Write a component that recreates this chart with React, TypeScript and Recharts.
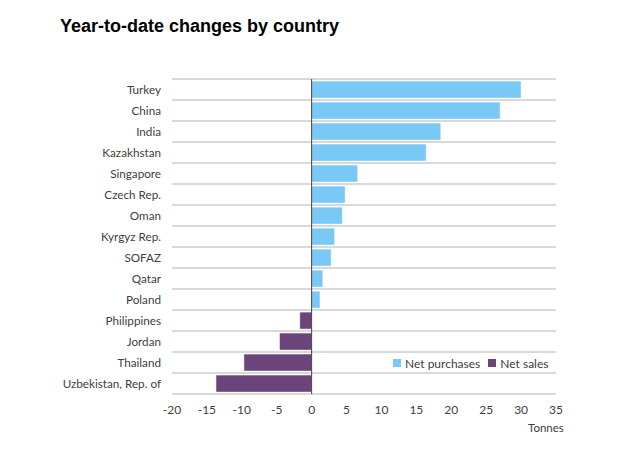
import { Bar, BarChart, CartesianGrid, ReferenceLine, XAxis, YAxis } from "recharts";

document.body.style.margin = "0";

const countries = [
  "Turkey",
  "China",
  "India",
  "Kazakhstan",
  "Singapore",
  "Czech Rep.",
  "Oman",
  "Kyrgyz Rep.",
  "SOFAZ",
  "Qatar",
  "Poland",
  "Philippines",
  "Jordan",
  "Thailand",
  "Uzbekistan, Rep. of",
];

// tonnes, year-to-date
const changes = [30.0, 27.0, 18.5, 16.4, 6.6, 4.8, 4.4, 3.3, 2.8, 1.6, 1.2, -1.7, -4.6, -9.7, -13.7];

const xTicks = [-20, -15, -10, -5, 0, 5, 10, 15, 20, 25, 30, 35];

const BLUE = "#7AC8F5";
const PURPLE = "#6B4479";
const FONT = "Lato, 'Open Sans', sans-serif";

const rows = countries.map((name, i) => ({
  name,
  purchases: changes[i] > 0 ? changes[i] : 0,
  sales: changes[i] < 0 ? changes[i] : 0,
}));

function LegendBox() {
  const item = (color: string, label: string) => (
    <span style={{ display: "inline-flex", alignItems: "center", marginRight: 8 }}>
      <span style={{ width: 8, height: 8, background: color, marginRight: 4 }} />
      {label}
    </span>
  );
  return (
    <div
      style={{
        position: "absolute",
        left: 393,
        top: 355,
        fontFamily: FONT,
        fontSize: 12,
        color: "#404040",
        whiteSpace: "nowrap",
      }}
    >
      {item(BLUE, "Net purchases")}
      {item(PURPLE, "Net sales")}
    </div>
  );
}

export default function App() {
  return (
    <div style={{ position: "relative", width: 623, height: 456, background: "#fff" }}>
      <div
        style={{
          position: "absolute",
          left: 60,
          top: 16,
          fontFamily: "'Liberation Sans', Arial, sans-serif",
          fontWeight: "bold",
          fontSize: 18,
          color: "#000",
        }}
      >
        Year-to-date changes by country
      </div>
      <BarChart
        width={623}
        height={456}
        data={rows}
        layout="vertical"
        stackOffset="sign"
        barCategoryGap="10%"
        margin={{ top: 79, right: 67, bottom: 32, left: 42 }}
      >
        <CartesianGrid
          vertical={false}
          stroke="#b3b3b3"
          horizontalCoordinatesGenerator={({ offset }: any) =>
            countries
              .map((_, i) => offset.top + (i * offset.height) / countries.length)
              .concat(offset.top + offset.height)
          }
        />
        <XAxis
          type="number"
          domain={[-20, 35]}
          ticks={xTicks}
          axisLine={false}
          tickLine={false}
          tickSize={0}
          tickMargin={11}
          height={30}
          interval={0}
          tick={{ fill: "#404040", fontSize: 12, fontFamily: FONT }}
        />
        <YAxis
          type="category"
          dataKey="name"
          width={130}
          axisLine={false}
          tickLine={false}
          tickSize={0}
          tickMargin={11}
          interval={0}
          tick={{ fill: "#404040", fontSize: 11.7, fontFamily: FONT }}
        />
        <Bar dataKey="purchases" name="Net purchases" stackId="a" fill={BLUE} stroke="#fff" strokeWidth={0.5} isAnimationActive={false} />
        <Bar dataKey="sales" name="Net sales" stackId="a" fill={PURPLE} stroke="#fff" strokeWidth={0.5} isAnimationActive={false} />
        <ReferenceLine x={0} stroke="#404040" strokeWidth={1} />
      </BarChart>
      <LegendBox />
      <div
        style={{
          position: "absolute",
          left: 528,
          top: 421,
          fontFamily: FONT,
          fontSize: 11.5,
          color: "#404040",
        }}
      >
        Tonnes
      </div>
    </div>
  );
}
